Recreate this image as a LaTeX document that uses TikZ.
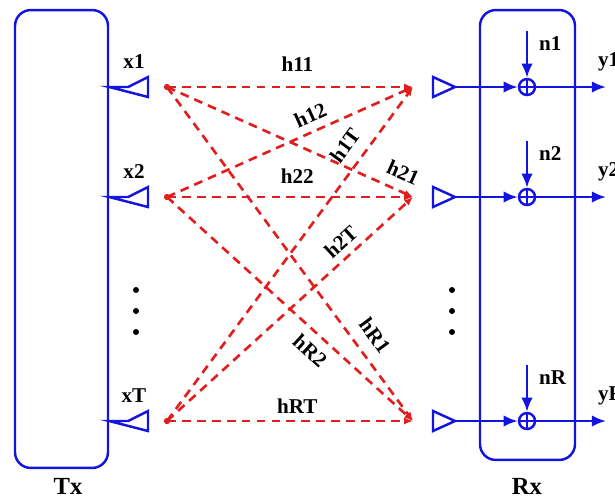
\documentclass[tikz,border=0pt]{standalone}
\usepackage{fontspec}
\setmainfont{Liberation Serif}
\usetikzlibrary{arrows.meta}

\definecolor{sigblue}{RGB}{20,20,225}
\definecolor{chanred}{RGB}{225,30,30}

\begin{document}
\begin{tikzpicture}[x=0.02cm,y=-0.02cm,
  sig/.style={sigblue,line width=1.4pt},
  chan/.style={chanred,line width=1.5pt,dash pattern=on 5pt off 3.5pt,-{Latex[length=5pt,width=4pt]}},
  lbl/.style={black,font=\fontsize{12}{14}\selectfont\bfseries,inner sep=1pt},
  blk/.style={sig,draw,rounded corners=9pt,inner sep=0pt},
  tip/.style={-{Latex[length=8pt,width=6.5pt]}},
  adder/.style={sig,draw,circle,inner sep=0pt,minimum size=0.32cm}]
  \useasboundingbox (0,0) rectangle (615,498);
  % tx and rx blocks
  \node[blk,minimum width=1.86cm,minimum height=9.16cm] (tx) at (61.5,239) {};
  \node[blk,minimum width=1.9cm,minimum height=9cm] (rx) at (527.5,235) {};
  \node[inner sep=0pt,font=\fontsize{14}{16}\selectfont\bfseries] (txname) at (68,486) {Tx};
  \node[inner sep=0pt,font=\fontsize{14}{16}\selectfont\bfseries] (rxname) at (527,486) {Rx};
  % rows: index / y / tx name / rx name
  \foreach \i/\y/\t/\r in {1/87/1/1,2/197/2/2,3/421/T/R}{
    % transmit antenna
    \coordinate (a\i) at (128,\y);
    \draw[sig] (tx.east |- a\i) -- (a\i) -- ++(20,-10) -- ++(0,20) -- cycle;
    \node[lbl] (x\i) at (134,\y-25) {x\t};
    % channel end points
    \coordinate (s\i) at (167,\y);
    \coordinate (d\i) at (413,\y);
    \fill[chanred] (s\i) circle (1.8pt);
    % receive antenna, noise and output
    \coordinate (b\i) at (455,\y);
    \draw[sig] (b\i) -- ++(-22,-10) -- ++(0,20) -- cycle;
    \node[adder] (p\i) at (527,\y) {};
    \draw[sig] (p\i.north) -- (p\i.south) (p\i.west) -- (p\i.east);
    \draw[sig,tip] (b\i) -- (p\i);
    \coordinate (n\i) at (527,\y-56);
    \draw[sig,tip] (n\i) -- (p\i);
    \node[lbl,anchor=west] (nl\i) at (537,\y-43) {n\r};
    \coordinate (o\i) at (606,\y);
    \draw[sig,tip] (p\i) -- (o\i);
    \node[lbl,anchor=west] (y\i) at (596,\y-25) {y\r};
  }
  % channel paths
  \draw[chan] (s1) -- node[lbl,pos=0.53,above=7pt] (h11) {h11} (d1);
  \draw[chan] (s2) -- node[lbl,pos=0.53,above=5.8pt] (h22) {h22} (d2);
  \draw[chan] (s3) -- node[lbl,pos=0.53,above=2.5pt] (hRT) {hRT} (d3);
  \draw[chan] (s2) -- node[lbl,sloped,pos=0.61,above=3.5pt] (h12) {h12} (d1);
  \draw[chan] (s1) -- node[lbl,sloped,pos=0.93,above=4.5pt] (h21) {h21} (d2);
  \draw[chan] (s3) -- node[lbl,sloped,pos=0.79,above=5.5pt] (h1T) {h1T} (d1);
  \draw[chan] (s3) -- node[lbl,sloped,pos=0.75,above=3pt] (h2T) {h2T} (d2);
  \draw[chan] (s2) -- node[lbl,sloped,pos=0.63,below=4pt] (hR2) {hR2} (d3);
  \draw[chan] (s1) -- node[lbl,sloped,pos=0.78,above=5.5pt] (hR1) {hR1} (d3);
  % ellipsis dots
  \foreach \k in {290,311,332}{
    \fill (136,\k) circle (1.7pt);
    \fill (452,\k) circle (1.7pt);
  }
\end{tikzpicture}
\end{document}
